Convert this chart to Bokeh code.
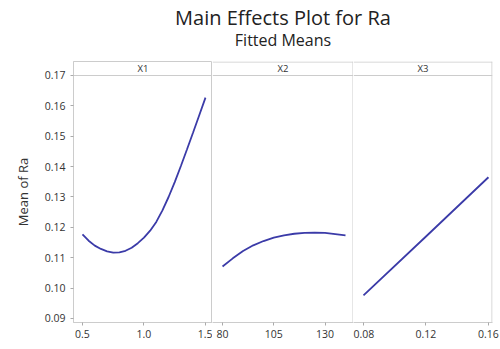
from bokeh.plotting import figure
from bokeh.layouts import row, column
from bokeh.models import Range1d, FixedTicker, CustomJSTickFormatter, Span, Label
from bokeh.embed import file_html
from bokeh.resources import INLINE

# ---- data ----
x1_levels = [0.50, 0.55, 0.60, 0.65, 0.70, 0.75, 0.80, 0.85, 0.90, 0.95, 1.00,
             1.05, 1.10, 1.15, 1.20, 1.25, 1.30, 1.35, 1.40, 1.45, 1.50]
x1_mean = [0.1177, 0.1156, 0.1140, 0.1129, 0.1121, 0.1117, 0.1118, 0.1123, 0.1133, 0.1148, 0.1166,
           0.1189, 0.1218, 0.1256, 0.1300, 0.1349, 0.1402, 0.1457, 0.1513, 0.1570, 0.1627]

x2_levels = [80, 85, 90, 95, 100, 105, 110, 115, 120, 125, 130, 135, 140]
x2_mean = [0.1071, 0.1098, 0.1122, 0.1141, 0.1155, 0.1166, 0.1174, 0.1179, 0.1182, 0.1183, 0.1182, 0.1178, 0.1174]

x3_levels = [0.08, 0.12, 0.16]
x3_mean = [0.0976, 0.1170, 0.1365]

y_ticks = [0.09, 0.10, 0.11, 0.12, 0.13, 0.14, 0.15, 0.16, 0.17]
x1_ticks = [0.5, 1.0, 1.5]
x2_ticks = [80, 105, 130]
x3_ticks = [0.08, 0.12, 0.16]

panel_names = ["X1", "X2", "X3"]
title_text = "Main Effects Plot for Ra"
subtitle_text = "Fitted Means"
y_label = "Mean of Ra"

FONT = "Open Sans"
LINE_COLOR = "#3b3ba8"
GRAY = "#cccccc"
TEXT = "#333333"

y_range = Range1d(0.088683, 0.174609)
strip_y = 0.17
strip_label_y = 0.1723

LEFT = 73
TOTAL_W = 499
TITLE_H = 61
FRAME_H = 261


def make_panel(xs, ys, xr, ticks, decimals, name, first, min_left, min_right, fw):
    p = figure(frame_width=fw, frame_height=FRAME_H,
               x_range=Range1d(*xr), y_range=y_range,
               output_backend="svg", toolbar_location=None, title=None,
               y_axis_location="left" if first else None,
               min_border_left=min_left, min_border_right=min_right,
               min_border_top=0, min_border_bottom=25)
    p.background_fill_color = "white"
    p.border_fill_color = "white"
    p.xgrid.visible = False
    p.ygrid.visible = False
    if first:
        p.outline_line_color = GRAY
    else:
        # left edge is shared with the previous panel's border; draw top and right edges
        half_px_x = 0.5 * (xr[1] - xr[0]) / fw
        half_px_y = 0.5 * (y_range.end - y_range.start) / FRAME_H
        p.add_layout(Span(location=y_range.end - half_px_y, dimension="width",
                          line_color=GRAY, line_width=1))
        p.add_layout(Span(location=xr[1] - half_px_x, dimension="height",
                          line_color=GRAY, line_width=1))
        p.outline_line_color = None

    p.xaxis.ticker = FixedTicker(ticks=ticks)
    p.xaxis.formatter = CustomJSTickFormatter(args=dict(d=decimals), code="return tick.toFixed(d);")
    p.xaxis.minor_tick_line_color = None
    p.xaxis.major_tick_out = 3
    p.xaxis.major_tick_in = 0
    p.xaxis.major_tick_line_color = "#aaaaaa"
    p.xaxis.axis_line_color = GRAY
    p.xaxis.major_label_text_font = FONT
    p.xaxis.major_label_text_font_size = "10.5px"
    p.xaxis.major_label_text_color = TEXT
    p.xaxis.major_label_standoff = 4

    if first:
        p.yaxis.ticker = FixedTicker(ticks=y_ticks)
        p.yaxis.formatter = CustomJSTickFormatter(code="return tick.toFixed(2);")
        p.yaxis.minor_tick_line_color = None
        p.yaxis.major_tick_out = 3
        p.yaxis.major_tick_in = 0
        p.yaxis.major_tick_line_color = "#aaaaaa"
        p.yaxis.axis_line_color = GRAY
        p.yaxis.major_label_text_font = FONT
        p.yaxis.major_label_text_font_size = "10.5px"
        p.yaxis.major_label_text_color = TEXT
        p.yaxis.major_label_standoff = 5
        p.yaxis.axis_label = y_label
        p.yaxis.axis_label_text_font = FONT
        p.yaxis.axis_label_text_font_size = "13px"
        p.yaxis.axis_label_text_font_style = "normal"
        p.yaxis.axis_label_text_color = TEXT
        p.yaxis.axis_label_standoff = 10

    p.add_layout(Span(location=strip_y, dimension="width", line_color=GRAY, line_width=1))
    p.add_layout(Label(x=(xr[0] + xr[1]) / 2, y=strip_label_y, text=name,
                       text_align="center", text_baseline="middle",
                       text_font=FONT, text_font_size="9.5px", text_color=TEXT))

    p.line(xs, ys, line_color=LINE_COLOR, line_width=1.8)
    return p


p1 = make_panel(x1_levels, x1_mean, (0.427, 1.557), x1_ticks, 1, panel_names[0], True, LEFT, 0, 139)
p2 = make_panel(x2_levels, x2_mean, (75.1, 143.9), x2_ticks, 0, panel_names[1], False, 0, 0, 141)
p3 = make_panel(x3_levels, x3_mean, (0.0736, 0.1626), x3_ticks, 2, panel_names[2], False, 0, 7, 139)

# title band above the panels (a pixel-scaled blank figure holding the two titles)
tp = figure(width=TOTAL_W, height=TITLE_H, x_range=Range1d(0, TOTAL_W), y_range=Range1d(0, TITLE_H),
            output_backend="svg", toolbar_location=None, title=None,
            x_axis_location=None, y_axis_location=None, min_border=0)
tp.outline_line_color = None
tp.xgrid.visible = False
tp.ygrid.visible = False
tp.background_fill_color = "white"
tp.border_fill_color = "white"
center_x = LEFT + (139 + 141 + 139) / 2
tp.add_layout(Label(x=center_x, y=TITLE_H - 17, text=title_text, text_align="center",
                    text_baseline="middle", text_font=FONT, text_font_size="20px",
                    text_color="#222222"))
tp.add_layout(Label(x=center_x, y=TITLE_H - 39, text=subtitle_text, text_align="center",
                    text_baseline="middle", text_font=FONT, text_font_size="16px",
                    text_color="#222222"))

layout = column(tp, row(p1, p2, p3, spacing=0), spacing=0)

open("out.html", "w").write(file_html(layout, INLINE))
